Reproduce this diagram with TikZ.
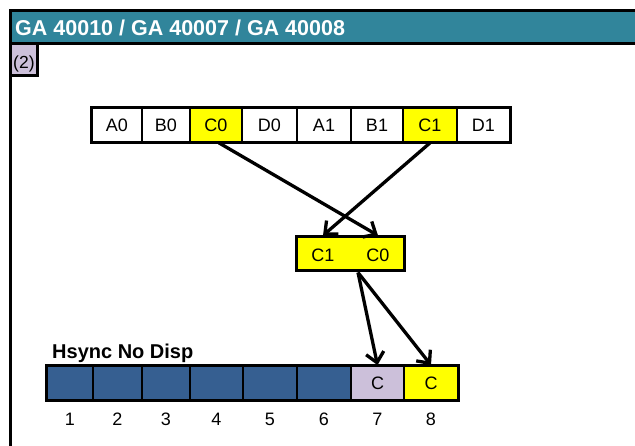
\documentclass[tikz,border=0pt]{standalone}
\usepackage{fontspec}
\setmainfont{Liberation Sans}
\usetikzlibrary{arrows.meta,calc}
\definecolor{headteal}{RGB}{49,133,155}
\definecolor{cellblue}{RGB}{54,95,145}
\definecolor{lav}{RGB}{204,192,218}
\definecolor{yel}{RGB}{255,255,0}
\begin{document}
\begin{tikzpicture}[x=1pt,y=-1pt,
  cellbox/.style={draw=black,line width=1.8pt,minimum height=34pt,inner sep=0pt,
    font=\fontsize{18}{18}\selectfont},
  outerbox/.style={draw=black,line width=3pt},
  numlbl/.style={font=\fontsize{18}{18}\selectfont,inner sep=0pt},
  arr/.style={line width=3.3pt,-{Straight Barb[length=10pt,width=18pt]}}
]
\useasboundingbox (0,0) rectangle (635,446);
% header
\fill[black] (9,9) rectangle (635,45);
\fill[headteal] (12,12) rectangle (635,42);
\node[anchor=base west,inner sep=0pt,text=white,font=\fontsize{21.5}{21.5}\selectfont\bfseries] (title) at (15,36) {GA 40010 / GA 40007 / GA 40008};
\draw[line width=3pt] (10.5,43) -- (10.5,446);
\filldraw[fill=lav,draw=black,line width=3pt] (10.5,43.5) rectangle (37.5,75.5);
\node[anchor=base west,inner sep=0pt,font=\fontsize{17.5}{17.5}\selectfont] (num2) at (13,69) {(2)};
% top row
\node[cellbox,minimum width=50pt] (t1) at (117,125) {A0};
\node[cellbox,minimum width=48pt] (t2) at (166,125) {B0};
\node[cellbox,minimum width=52pt,fill=yel] (t3) at (216,125) {C0};
\node[cellbox,minimum width=55pt] (t4) at (269.5,125) {D0};
\node[cellbox,minimum width=54pt] (t5) at (324,125) {A1};
\node[cellbox,minimum width=52pt] (t6) at (377,125) {B1};
\node[cellbox,minimum width=54pt,fill=yel] (t7) at (430,125) {C1};
\node[cellbox,minimum width=53pt] (t8) at (483.5,125) {D1};
\draw[outerbox] (t1.north west) rectangle (t8.south east);
% middle box
\node[draw=black,line width=3pt,fill=yel,minimum width=108pt,minimum height=34pt,inner sep=0pt] (mid) at (350,254) {};
\node[numlbl] (m1) at (323,255) {C1};
\node[numlbl] (m0) at (378,255) {C0};
% bottom row
\node[anchor=west,inner sep=0pt,font=\fontsize{20}{20}\selectfont\bfseries] (hs) at (52,353) {Hsync No Disp};
\node[cellbox,minimum width=46pt,fill=cellblue] (b1) at (70,383) {};
\node[cellbox,minimum width=49pt,fill=cellblue] (b2) at (117.5,383) {};
\node[cellbox,minimum width=48pt,fill=cellblue] (b3) at (166,383) {};
\node[cellbox,minimum width=53pt,fill=cellblue] (b4) at (216.5,383) {};
\node[cellbox,minimum width=54pt,fill=cellblue] (b5) at (270,383) {};
\node[cellbox,minimum width=54pt,fill=cellblue] (b6) at (324,383) {};
\node[cellbox,minimum width=53pt,fill=lav] (b7) at (377.5,383) {C};
\node[cellbox,minimum width=54pt,fill=yel] (b8) at (431,383) {C};
\draw[outerbox] (b1.north west) rectangle (b8.south east);
\foreach \i in {1,...,8} {
  \node[numlbl] (n\i) at ([yshift=-18pt]b\i.south) {\i};
}
% arrows
\draw[arr] ([xshift=3pt]t3.south) -- (m0.north |- mid.north);
\draw[arr] (t7.south) -- (m1.north |- mid.north);
\coordinate (ms) at ([xshift=8pt]mid.south);
\draw[arr] (ms) -- (b7.north);
\draw[arr] (ms) -- (b8.north);
\end{tikzpicture}
\end{document}
